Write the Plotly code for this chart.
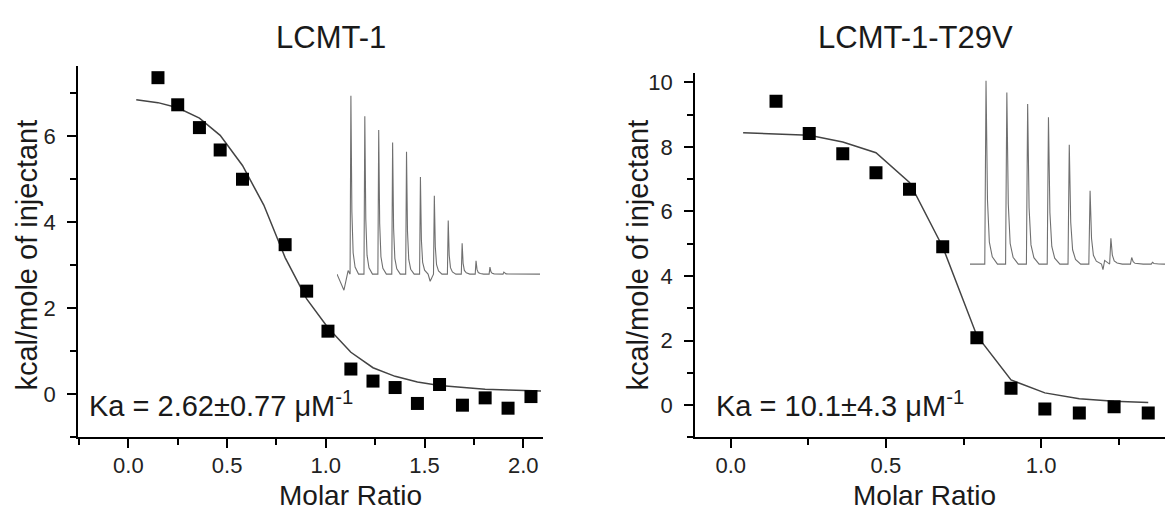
import plotly.graph_objects as go

# ---------------- data ----------------
# LCMT-1 binding isotherm
lcmt_ratio = [0.15, 0.25, 0.36, 0.465, 0.578, 0.794, 0.903, 1.011, 1.127, 1.239,
              1.351, 1.464, 1.576, 1.692, 1.807, 1.923, 2.039]
lcmt_heat = [7.36, 6.73, 6.20, 5.68, 5.00, 3.48, 2.40, 1.47, 0.59, 0.31,
             0.16, -0.21, 0.23, -0.25, -0.08, -0.32, -0.05]
lcmt_fit_x = [0.04, 0.15, 0.25, 0.36, 0.465, 0.578, 0.686, 0.794, 0.903, 1.011,
              1.127, 1.239, 1.351, 1.464, 1.576, 1.692, 1.807, 1.923, 2.039, 2.09]
lcmt_fit_y = [6.85, 6.78, 6.66, 6.42, 6.02, 5.32, 4.40, 3.18, 2.22, 1.55,
              0.98, 0.62, 0.42, 0.29, 0.21, 0.16, 0.12, 0.10, 0.08, 0.08]
lcmt_peak_heights = [1.0, 0.885, 0.808, 0.738, 0.686, 0.545, 0.439, 0.301,
                     0.173, 0.075, 0.039, 0.011]

# LCMT-1-T29V binding isotherm
t29v_ratio = [0.146, 0.253, 0.361, 0.468, 0.576, 0.683, 0.793, 0.903, 1.012,
              1.123, 1.235, 1.345]
t29v_heat = [9.41, 8.41, 7.79, 7.20, 6.69, 4.91, 2.09, 0.52, -0.12, -0.24,
             -0.05, -0.24]
t29v_fit_x = [0.04, 0.146, 0.253, 0.361, 0.468, 0.576, 0.683, 0.793, 0.903,
              1.012, 1.123, 1.235, 1.345]
t29v_fit_y = [8.44, 8.41, 8.36, 8.15, 7.82, 6.90, 4.90, 2.15, 0.78, 0.38,
              0.20, 0.12, 0.08]
t29v_peak_heights = [1.0, 0.937, 0.873, 0.801, 0.651, 0.40, 0.141, 0.036, 0.01]

titles = ["LCMT-1", "LCMT-1-T29V"]
ka_texts = ["Ka = 2.62\u00b10.77 \u03bcM<sup>-1</sup>",
            "Ka = 10.1\u00b14.3 \u03bcM<sup>-1</sup>"]
x_title = "Molar Ratio"
y_title = "kcal/mole of injectant"

W, H = 1165, 515
FONT = "Liberation Sans, Arial, sans-serif"


def px(x):
    return x / W


def py(y):
    return 1 - y / H


def thermogram(heights, start, end, dips):
    xs, ys = [start], [0.0]
    for xd, yd in dips:
        if xd < 1:
            xs.append(xd)
            ys.append(yd)
    for i, h in enumerate(heights):
        n = i + 1
        xs += [n - 0.06, n, n + 0.07, n + 0.16, n + 0.3, n + 0.55]
        ys += [0.0, h, 0.35 * h, 0.12 * h, 0.04 * h, 0.0]
        for xd, yd in dips:
            if n + 0.55 < xd < n + 1 - 0.06:
                xs.append(xd)
                ys.append(yd)
    xs.append(end)
    ys.append(0.0)
    return xs, ys


fig = go.Figure()

# main isotherms
fig.add_trace(go.Scatter(x=lcmt_fit_x, y=lcmt_fit_y, mode="lines",
                         line=dict(color="#444444", width=1.5),
                         xaxis="x", yaxis="y", showlegend=False))
fig.add_trace(go.Scatter(x=lcmt_ratio, y=lcmt_heat, mode="markers",
                         marker=dict(symbol="square", size=13, color="black"),
                         xaxis="x", yaxis="y", showlegend=False, cliponaxis=False))
fig.add_trace(go.Scatter(x=t29v_fit_x, y=t29v_fit_y, mode="lines",
                         line=dict(color="#444444", width=1.5),
                         xaxis="x2", yaxis="y2", showlegend=False))
fig.add_trace(go.Scatter(x=t29v_ratio, y=t29v_heat, mode="markers",
                         marker=dict(symbol="square", size=13, color="black"),
                         xaxis="x2", yaxis="y2", showlegend=False))

# insets (raw thermograms)
lx, ly = thermogram(lcmt_peak_heights, 0.0, 14.6,
                    [(0.3, -0.05), (0.5, -0.09), (0.8, 0.02), (6.7, -0.04), (14.4, 0.02)])
fig.add_trace(go.Scatter(x=lx, y=ly, mode="lines",
                         line=dict(color="#707070", width=1.1),
                         xaxis="x3", yaxis="y3", showlegend=False))
rx, ry = thermogram(t29v_peak_heights, 0.23, 9.6, [(6.62, -0.03), (6.7, 0.02)])
fig.add_trace(go.Scatter(x=rx, y=ry, mode="lines",
                         line=dict(color="#707070", width=1.1),
                         xaxis="x4", yaxis="y4", showlegend=False))

axis_common = dict(showline=True, linecolor="black", linewidth=1.6,
                   ticks="outside", ticklen=9, tickwidth=1.5, tickcolor="black",
                   showgrid=False, zeroline=False,
                   tickfont=dict(family=FONT, size=22, color="#222222"))
minor_common = dict(ticklen=6, tickwidth=1.5, tickcolor="black", ticks="outside")

fig.update_layout(
    width=W, height=H,
    margin=dict(l=0, r=0, t=0, b=0),
    paper_bgcolor="white", plot_bgcolor="white",
    xaxis=dict(domain=[px(78), px(543)], range=[-0.255, 2.10], anchor="y",
               tickvals=[0, 0.5, 1.0, 1.5, 2.0], tickformat=".1f",
               minor=dict(dtick=0.25, tick0=0, **minor_common),
               ticklabelstandoff=-2, **axis_common),
    yaxis=dict(domain=[py(437), py(63)], range=[-1, 7.64], anchor="x",
               tickvals=[0, 2, 4, 6],
               minor=dict(dtick=1, tick0=0, **minor_common),
               ticklabelstandoff=7, **axis_common),
    xaxis2=dict(domain=[px(695), 1.0], range=[-0.115, 1.399], anchor="y2",
                tickvals=[0, 0.5, 1.0], tickformat=".1f",
                minor=dict(dtick=0.25, tick0=0, **minor_common),
                ticklabelstandoff=-2, **axis_common),
    yaxis2=dict(domain=[py(437), py(70)], range=[-1, 10.3], anchor="x2",
                tickvals=[0, 2, 4, 6, 8, 10],
                minor=dict(dtick=1, tick0=0, **minor_common),
                ticklabelstandoff=7, **axis_common),
    xaxis3=dict(domain=[px(337), px(540)], range=[0, 14.6], visible=False, anchor="y3"),
    yaxis3=dict(domain=[py(290), py(92)], range=[-0.0964, 1.007], visible=False, anchor="x3"),
    xaxis4=dict(domain=[px(970), 1.0], range=[0.23, 9.6], visible=False, anchor="y4"),
    yaxis4=dict(domain=[py(270), py(76)], range=[-0.04, 1.0125], visible=False, anchor="x4"),
)

annos = []
for t, xc in zip(titles, [px(331), px(916)]):
    annos.append(dict(text=t, x=xc, y=py(35), xref="paper", yref="paper",
                      showarrow=False, xanchor="center", yanchor="middle",
                      font=dict(family=FONT, size=31, color="#1a1a1a")))
for t, xl in zip(ka_texts, [px(87), px(714)]):
    annos.append(dict(text=t, x=xl, y=py(403), xref="paper", yref="paper",
                      showarrow=False, xanchor="left", yanchor="middle",
                      font=dict(family=FONT, size=29, color="#1a1a1a")))
for xc in [px(350), px(924)]:
    annos.append(dict(text=x_title, x=xc, y=py(495), xref="paper", yref="paper",
                      showarrow=False, xanchor="center", yanchor="middle",
                      font=dict(family=FONT, size=28, color="#1a1a1a")))
for xc in [px(27), px(638)]:
    annos.append(dict(text=y_title, x=xc, y=py(254), xref="paper", yref="paper",
                      showarrow=False, xanchor="center", yanchor="middle",
                      textangle=-90,
                      font=dict(family=FONT, size=29, color="#1a1a1a")))
fig.update_layout(annotations=annos)

fig.write_html("out.html",
               config={"displayModeBar": False},
               post_script="document.body.style.margin='0px';"
                           "document.body.style.overflow='hidden';")
